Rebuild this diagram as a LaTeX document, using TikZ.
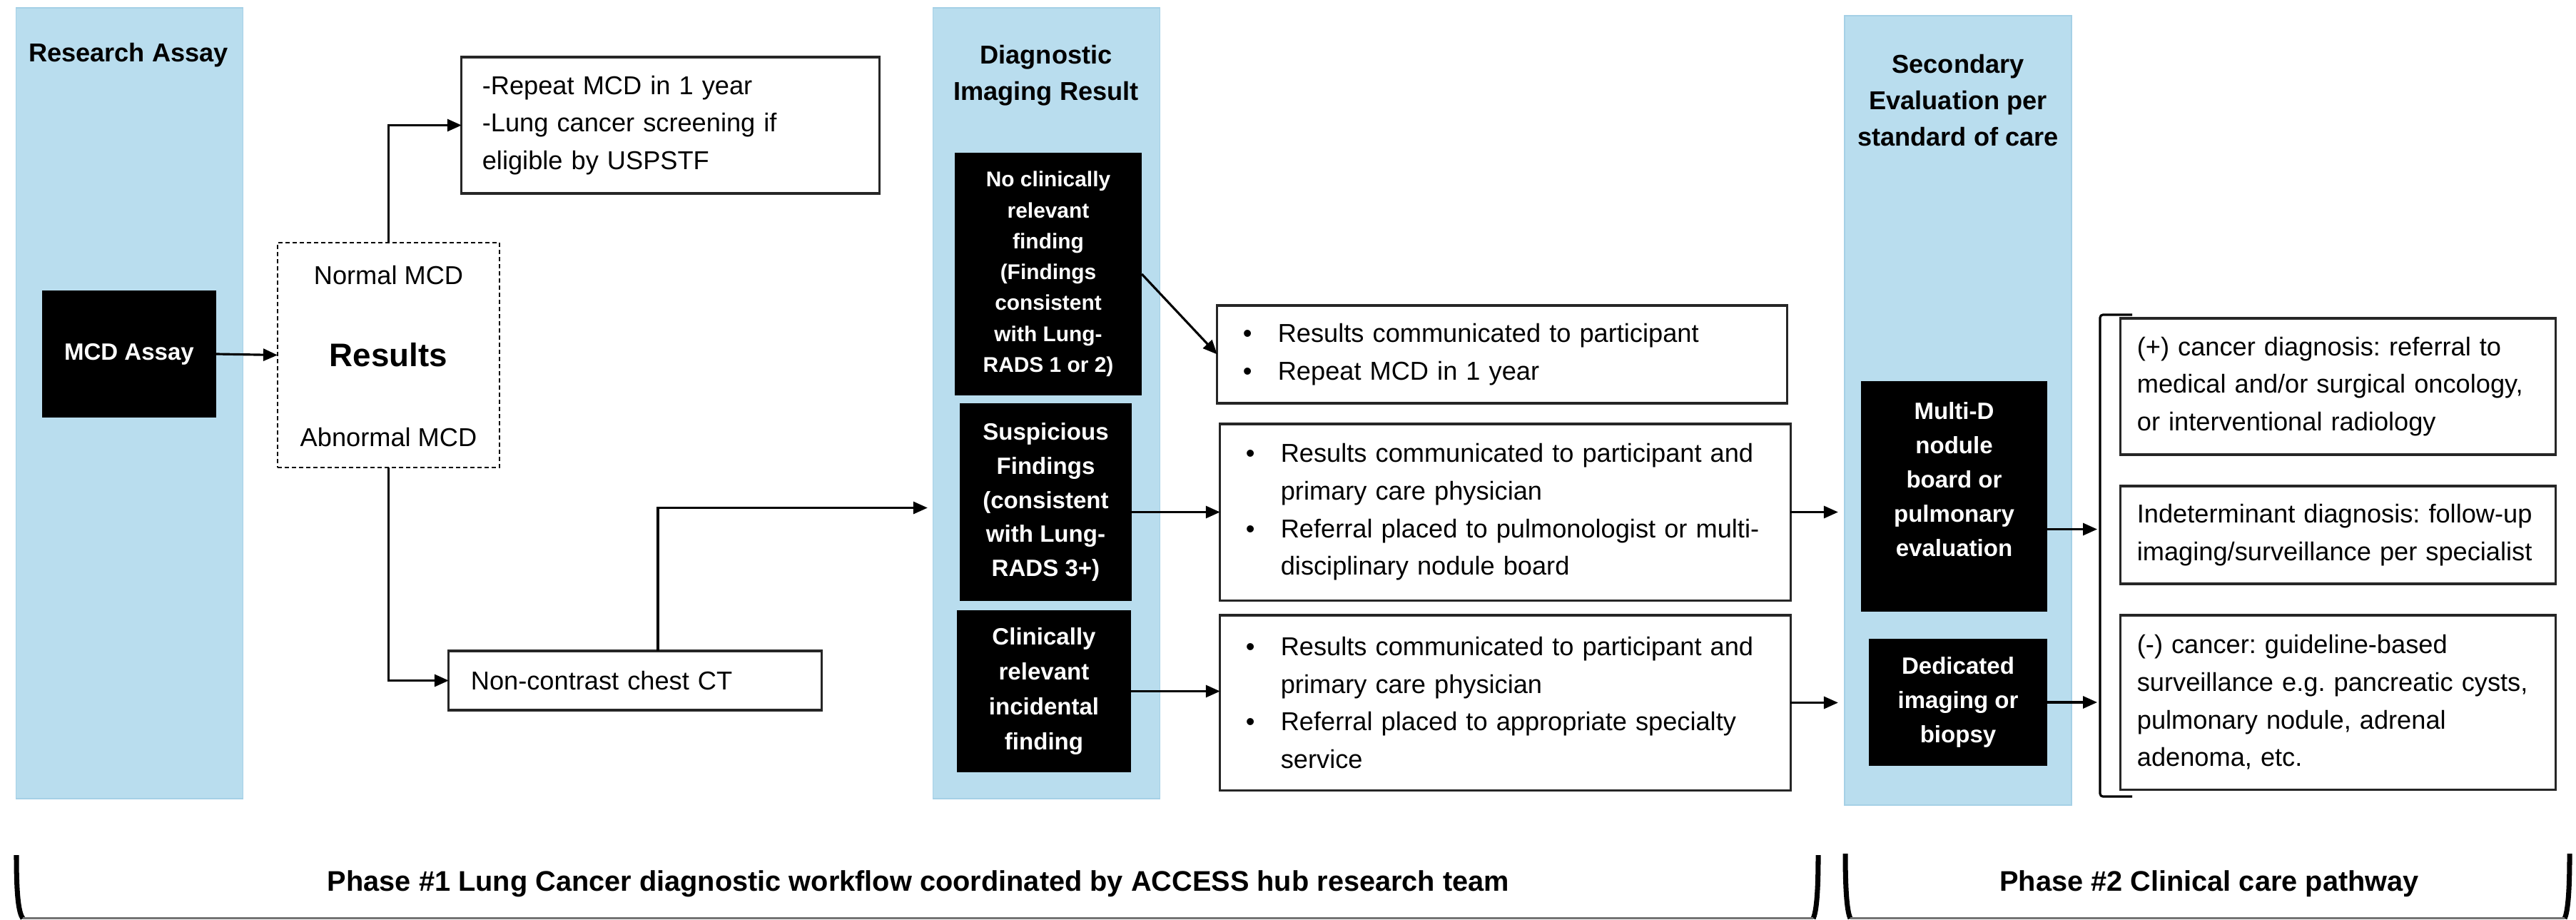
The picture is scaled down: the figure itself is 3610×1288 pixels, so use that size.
\documentclass[tikz,border=0pt]{standalone}
\usepackage{fontspec}
\setmainfont{Liberation Sans}
\usetikzlibrary{arrows.meta}
\definecolor{colblue}{RGB}{185,221,238}
\definecolor{coledge}{RGB}{165,208,230}
\newcommand{\bul}{\makebox[0.49cm][l]{\textbullet}}
\newcommand{\ind}{\hspace*{0.49cm}}
\frenchspacing

\begin{document}
\begin{tikzpicture}[x=0.01cm,y=-0.01cm,
  every node/.style={outer sep=0pt, font=\fontsize{10.3}{15}\selectfont},
  col/.style={fill=colblue, draw=coledge, line width=0.5pt, minimum width=3.18cm, minimum height=11.08cm, inner sep=0pt},
  ttl/.style={font=\bfseries\fontsize{10.3}{14.5}\selectfont, align=center},
  bbox/.style={fill=black, text=white, align=center, inner sep=0pt, font=\bfseries\fontsize{9.4}{13.6}\selectfont},
  wbox/.style={draw=black!85, line width=0.9pt, align=left, inner ysep=0pt, minimum height=#1},
  phase/.style={font=\bfseries\fontsize{11.3}{14}\selectfont},
  link/.style={line width=0.9pt, -{Triangle[length=0.2cm,width=0.17cm]}}]
\useasboundingbox (0,0) rectangle (3610,1288);
\node[col] (colA) at (181.5,565) {};
\node[col] (colB) at (1466.5,565) {};
\node[col, minimum height=11.06cm] (colC) at (2744,575) {};
\node[ttl] (ttlA) at (180,77) {Research Assay};
\node[ttl] (ttlB) at (1466,106) {Diagnostic\\Imaging Result};
\node[ttl] (ttlC) at (2744,141) {Secondary\\Evaluation per\\standard of care};
\node[bbox, minimum width=2.44cm, minimum height=1.78cm] (mcd) at (181,496) {MCD Assay};
\node[draw, dash pattern=on 0.06cm off 0.04cm, line width=0.6pt, minimum width=3.11cm, minimum height=3.15cm, font=\bfseries\fontsize{13}{15}\selectfont] (res) at (544.5,497.5) {Results};
\node (resN) at (544.5,386) {Normal MCD};
\node (resA) at (544.5,613) {Abnormal MCD};
\node[wbox=1.91cm, text width=5.27cm, inner xsep=0.29cm] (rep) at (939.5,175.5) {-Repeat MCD in 1 year\\-Lung cancer screening if\\eligible by USPSTF};
\node[wbox=0.83cm, text width=4.6cm, inner xsep=0.31cm] (nct) at (890,953.5) {Non-contrast chest CT};
\node[bbox, font=\bfseries\fontsize{8.5}{12.3}\selectfont, minimum width=2.62cm, minimum height=3.4cm] (nofind) at (1469,384) {No clinically\\relevant\\finding\\(Findings\\consistent\\with Lung-\\RADS 1 or 2)};
\node[bbox, minimum width=2.41cm, minimum height=2.77cm] (susp) at (1465.5,703.5) {Suspicious\\Findings\\(consistent\\with Lung-\\RADS 3+)};
\node[bbox, font=\bfseries\fontsize{9.4}{14}\selectfont, minimum width=2.44cm, minimum height=2.27cm] (incid) at (1463,968.5) {Clinically\\relevant\\incidental\\finding};
\node[bbox, minimum width=2.61cm, minimum height=3.23cm] (multid) at (2738.5,695.5) {Multi-D\\nodule\\board or\\pulmonary\\evaluation\\\mbox{}};
\node[bbox, minimum width=2.5cm, minimum height=1.78cm] (dedic) at (2744,984) {Dedicated\\imaging or\\biopsy};
\node[wbox=1.37cm, text width=7.26cm, inner xsep=0.36cm] (boxA) at (2105,496.5) {\bul Results communicated to participant\\\bul Repeat MCD in 1 year};
\node[wbox=2.47cm, text width=7.27cm, inner xsep=0.36cm] (boxB) at (2109.5,717.5) {\bul Results communicated to participant and\\\ind primary care physician\\\bul Referral placed to pulmonologist or multi-\\\ind disciplinary nodule board};
\node[wbox=2.45cm, text width=7.27cm, inner xsep=0.36cm] (boxC) at (2109.5,984.5) {\bul Results communicated to participant and\\\ind primary care physician\\\bul Referral placed to appropriate specialty\\\ind service};
\node[wbox=1.91cm, text width=5.63cm, inner xsep=0.23cm] (boxP) at (3276.5,541.5) {(+) cancer diagnosis: referral to\\medical and/or surgical oncology,\\or interventional radiology};
\node[wbox=1.37cm, text width=5.63cm, inner xsep=0.23cm] (boxI) at (3276.5,749.5) {Indeterminant diagnosis: follow-up\\imaging/surveillance per specialist};
\node[wbox=2.44cm, text width=5.63cm, inner xsep=0.23cm] (boxN) at (3276.5,984) {(-) cancer: guideline-based\\surveillance e.g. pancreatic cysts,\\pulmonary nodule, adrenal\\adenoma, etc.};
\coordinate (brkT) at (2943,441);
\coordinate (brkB) at (2943,1116);
\draw[link] (mcd.east) -- (res.west);
\draw[link] (res.north) |- (rep.west);
\draw[link] (res.south) |- (nct.west);
\draw[link, shorten >=0.45cm] ([xshift=0.32cm]nct.north) |- ([yshift=-0.08cm]susp.west);
\draw[link] (nofind.east) -- (boxA.west);
\draw[link] (susp.east |- boxB.west) -- (boxB.west);
\draw[link] (incid.east) -- (incid.east -| boxC.west);
\draw[link, shorten >=0.09cm] (boxB.east) -- (boxB.east -| colC.west);
\draw[link, shorten >=0.09cm] (boxC.east) -- (boxC.east -| colC.west);
\draw[link, shorten >=0.04cm] ([yshift=-0.46cm]multid.east) -- ([yshift=-0.46cm]multid.east -| brkT);
\draw[link, shorten >=0.04cm] (dedic.east) -- (dedic.east -| brkT);
\draw[line width=0.9pt, rounded corners=0.04cm] ([xshift=0.45cm]brkT) -- (brkT) -- (brkB) -- ([xshift=0.45cm]brkB);
\draw[line width=2pt] (23,1198) .. controls (23,1255) and (26,1278) .. (32,1287);
\draw[line width=2pt] (2548,1198) .. controls (2548,1255) and (2545,1278) .. (2541,1287);
\draw[line width=2pt] (2586,1196) .. controls (2586,1255) and (2589,1278) .. (2593,1287);
\draw[line width=2pt] (3601,1196) .. controls (3601,1255) and (3598,1278) .. (3594,1287);
\draw[line width=0.8pt, black!55] (32,1286.5) -- (2541,1286.5);
\draw[line width=0.8pt, black!55] (2593,1286.5) -- (3594,1286.5);
\node[phase] (ph1) at (1287,1238) {Phase \#1 Lung Cancer diagnostic workflow coordinated by ACCESS hub research team};
\node[phase] (ph2) at (3096,1238) {Phase \#2 Clinical care pathway};
\end{tikzpicture}
\end{document}
